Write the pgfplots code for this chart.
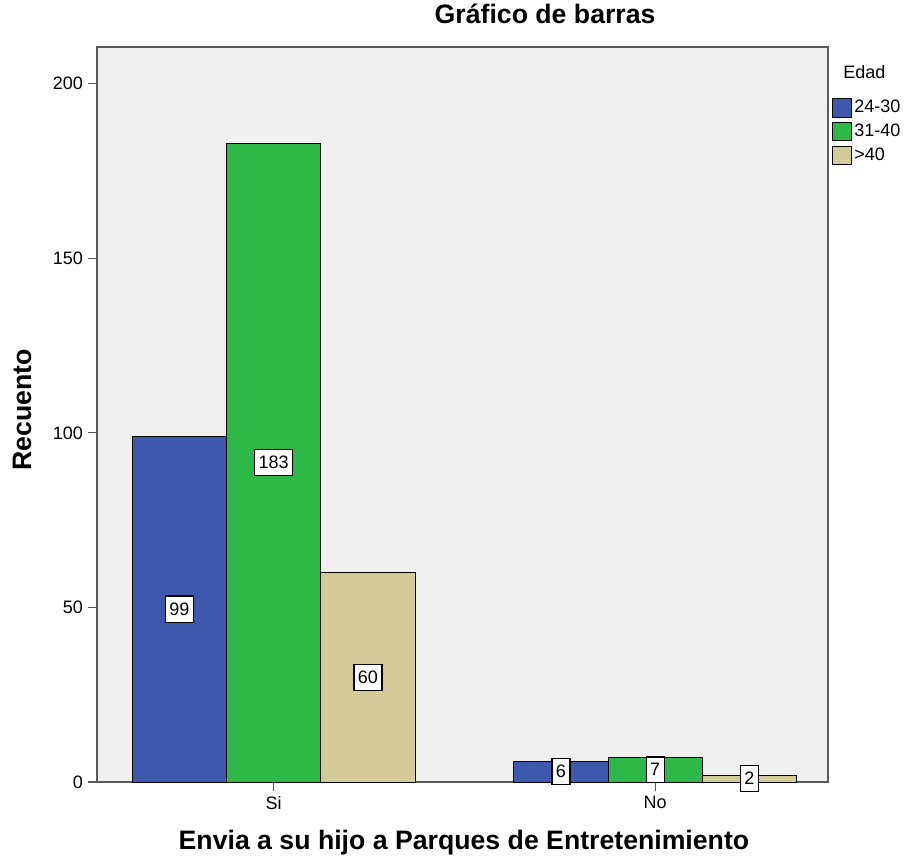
\documentclass[border=0pt]{standalone}
\usepackage{pgfplots}
\pgfplotsset{compat=1.18}
\usepackage{fontspec}
\setmainfont{Liberation Sans}
\definecolor{cblue}{RGB}{62,88,172}
\definecolor{cgreen}{RGB}{46,184,72}
\definecolor{ctan}{RGB}{212,204,152}
\definecolor{bgray}{RGB}{240,240,240}
\definecolor{framegray}{RGB}{90,90,90}
\begin{document}
\begin{tikzpicture}
\path[use as bounding box] (-72.75pt,-61.5pt) rectangle (609.75pt,586.5pt);
\begin{axis}[
  at={(0pt,0pt)}, anchor=south west,
  scale only axis, width=548.25pt, height=551.25pt,
  xmin=-0.463, xmax=1.453, ymin=0, ymax=210.5,
  xtick={0,1}, xticklabels={Si,No},
  ytick={0,50,100,150,200},
  tick align=outside, xtick pos=bottom, ytick pos=left,
  major tick length=7pt,
  tick style={framegray, line width=1pt},
  axis line style={framegray, line width=1.5pt},
  axis background/.style={fill=bgray},
  clip=false,
  /pgf/number format/assume math mode=true,
  ticklabel style={font=\fontsize{13.5}{16}\selectfont},
  title={Gráfico de barras},
  title style={at={(axis description cs:0.613,1.034)}, anchor=center, font=\bfseries\fontsize{20}{24}\selectfont},
  xlabel={Envia a su hijo a Parques de Entretenimiento},
  xlabel style={at={(axis description cs:0.502,-0.083)}, anchor=center, font=\bfseries\fontsize{20}{24}\selectfont},
  ylabel={Recuento},
  ylabel style={at={(axis description cs:-0.1026,0.506)}, anchor=center, font=\bfseries\fontsize{20}{24}\selectfont},
  legend style={at={(axis description cs:1.005,0.9313)}, anchor=north west, draw=none, fill=none,
    font=\fontsize{13.5}{16}\selectfont, row sep=3pt, inner xsep=0pt, inner ysep=0pt},
  legend cell align=left,
  mybar/.style={ybar, bar width=0.247, draw=black, line width=0.75pt,
    legend image code/.code={\draw[##1,draw=black,line width=0.75pt] (0pt,-7pt) rectangle (14pt,7pt);}},
]
\addplot[mybar, fill=cblue, bar shift=-0.247] coordinates {(0,99) (1,6)};
\addlegendentry{24-30}
\addplot[mybar, fill=cgreen, bar shift=0] coordinates {(0,183) (1,7)};
\addlegendentry{31-40}
\addplot[mybar, fill=ctan, bar shift=0.247] coordinates {(0,60) (1,2)};
\addlegendentry{>40}
\addplot[forget plot, draw=none, mark=none, nodes near coords, point meta=explicit symbolic,
  every node near coord/.style={draw=black, fill=white, text=black, inner xsep=3pt, inner ysep=5pt, line width=1pt,
    font=\fontsize{13.5}{16}\selectfont, anchor=center}]
  coordinates {(-0.247,49.5) [99] (0,91.5) [183] (0.247,30) [60] (0.753,3) [6] (1,3.5) [7] (1.247,1) [2]};
\node[anchor=west, inner sep=0pt, font=\fontsize{13.5}{16}\selectfont] at (axis description cs:1.0205,0.966) {Edad};
\end{axis}
\end{tikzpicture}
\end{document}
